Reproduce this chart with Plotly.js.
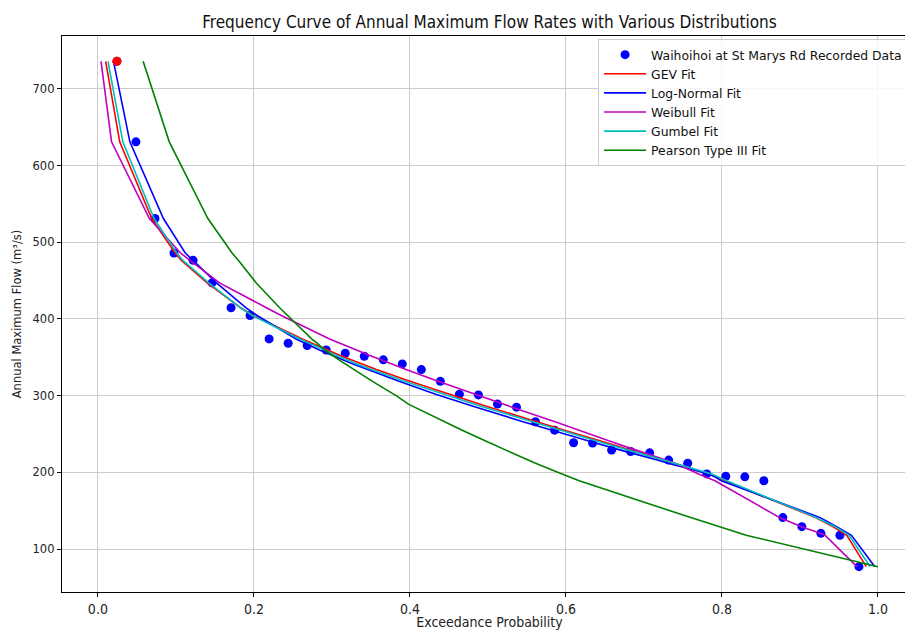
<!DOCTYPE html>
<html>
<head>
<meta charset="utf-8">
<script src="https://cdn.plot.ly/plotly-3.0.1.min.js"></script>
<style>
html, body { margin: 0; padding: 0; overflow: hidden; background: #ffffff; }
#chart { width: 925px; height: 630px; }
</style>
</head>
<body>
<div id="chart"></div>
<script>
// Recorded annual maximum flows (sorted, descending) and their exceedance probabilities
const recordedProb = [0.0244, 0.0488, 0.0732, 0.0976, 0.1220, 0.1463, 0.1707, 0.1951, 0.2195, 0.2439,
  0.2683, 0.2927, 0.3171, 0.3415, 0.3659, 0.3902, 0.4146, 0.4390, 0.4634, 0.4878,
  0.5122, 0.5366, 0.5610, 0.5854, 0.6098, 0.6341, 0.6585, 0.6829, 0.7073, 0.7317,
  0.7561, 0.7805, 0.8049, 0.8293, 0.8537, 0.8780, 0.9024, 0.9268, 0.9512, 0.9756];
const recordedFlow = [736, 631, 531, 486, 476.5, 447, 414.6, 404.6, 374, 368.4,
  365.4, 359.5, 355.3, 351.4, 346.7, 341.4, 334, 318.7, 302, 301,
  289, 285, 266, 255, 238.6, 238.2, 229, 227.2, 225.5, 216,
  212, 198, 195, 194.2, 189, 141, 129.2, 120.5, 118, 77];

// Highlighted maximum recorded flow
const maxProb = [0.0244];
const maxFlow = [736];

// Fitted exceedance probabilities at each recorded flow
const gevProb = [0.010, 0.028, 0.069, 0.099, 0.107, 0.140, 0.183, 0.199, 0.262, 0.274,
  0.281, 0.294, 0.304, 0.313, 0.325, 0.338, 0.357, 0.400, 0.449, 0.452,
  0.489, 0.502, 0.562, 0.598, 0.652, 0.653, 0.683, 0.689, 0.695, 0.726,
  0.739, 0.784, 0.790, 0.792, 0.803, 0.920, 0.942, 0.956, 0.960, 0.985];
const lognormProb = [0.020, 0.041, 0.084, 0.112, 0.122, 0.152, 0.190, 0.204, 0.254, 0.265,
  0.271, 0.284, 0.294, 0.303, 0.314, 0.327, 0.346, 0.386, 0.433, 0.436,
  0.472, 0.485, 0.545, 0.581, 0.637, 0.638, 0.670, 0.677, 0.683, 0.717,
  0.731, 0.783, 0.789, 0.791, 0.799, 0.926, 0.947, 0.963, 0.966, 0.996];
const weibullProb = [0.004, 0.0175, 0.066, 0.106, 0.118, 0.156, 0.216, 0.235, 0.297, 0.310,
  0.317, 0.331, 0.341, 0.351, 0.363, 0.376, 0.395, 0.436, 0.482, 0.485,
  0.519, 0.531, 0.586, 0.616, 0.662, 0.663, 0.690, 0.695, 0.700, 0.728,
  0.740, 0.770, 0.777, 0.779, 0.791, 0.874, 0.902, 0.926, 0.932, 0.973];
const gumbelProb = [0.013, 0.032, 0.072, 0.101, 0.109, 0.142, 0.183, 0.198, 0.259, 0.271,
  0.277, 0.290, 0.299, 0.308, 0.319, 0.332, 0.351, 0.393, 0.442, 0.445,
  0.482, 0.495, 0.556, 0.592, 0.647, 0.648, 0.680, 0.686, 0.692, 0.725,
  0.739, 0.787, 0.793, 0.795, 0.806, 0.921, 0.945, 0.959, 0.963, 0.990];
const pearson3Prob = [0.058, 0.0915, 0.141, 0.172, 0.180, 0.203, 0.233, 0.243, 0.274, 0.281,
  0.284, 0.291, 0.297, 0.302, 0.309, 0.317, 0.328, 0.352, 0.379, 0.381,
  0.398, 0.406, 0.444, 0.467, 0.502, 0.503, 0.523, 0.527, 0.531, 0.552,
  0.561, 0.595, 0.602, 0.604, 0.617, 0.760, 0.796, 0.823, 0.831, 1.0];

const seriesNames = ['Waihoihoi at St Marys Rd Recorded Data', 'GEV Fit', 'Log-Normal Fit',
  'Weibull Fit', 'Gumbel Fit', 'Pearson Type III Fit'];
const xTicks = [0.0, 0.2, 0.4, 0.6, 0.8, 1.0];
const yTicks = [100, 200, 300, 400, 500, 600, 700];

const fits = [
  {name: seriesNames[1], x: gevProb, color: '#ff0000'},
  {name: seriesNames[2], x: lognormProb, color: '#0000ff'},
  {name: seriesNames[3], x: weibullProb, color: '#bf00bf'},
  {name: seriesNames[4], x: gumbelProb, color: '#00bfbf'},
  {name: seriesNames[5], x: pearson3Prob, color: '#008000'}
];

const traces = [{
  x: recordedProb, y: recordedFlow, mode: 'markers', type: 'scatter',
  name: seriesNames[0],
  marker: {color: '#0000ff', size: 9}
}];
fits.forEach((f) => {
  traces.push({
    x: f.x, y: recordedFlow, mode: 'lines', type: 'scatter',
    name: f.name,
    line: {color: f.color, width: 1.6}
  });
});
traces.push({
  x: maxProb, y: maxFlow, mode: 'markers', type: 'scatter',
  showlegend: false, marker: {color: '#ff0000', size: 9}
});

const axisFontNarrow = {family: 'Liberation Sans Narrow, DejaVu Sans Condensed, sans-serif', size: 14, color: '#222'};

const layout = {
  width: 925, height: 630,
  margin: {l: 62, r: 8, t: 36, b: 38},
  paper_bgcolor: '#ffffff', plot_bgcolor: '#ffffff',
  title: {
    text: 'Frequency Curve of Annual Maximum Flow Rates with Various Distributions',
    font: {family: 'Liberation Sans Narrow, DejaVu Sans Condensed, sans-serif', size: 17, color: '#111'},
    x: 0.5, xref: 'paper', y: 1 - 22 / 630, yanchor: 'middle'
  },
  xaxis: {
    range: [-0.046, 1.05], tickvals: xTicks, tickformat: '.1f',
    showgrid: true, gridcolor: '#cccccc', gridwidth: 1, zeroline: false,
    showline: true, linecolor: '#000', linewidth: 1.2, mirror: true,
    ticks: 'outside', ticklen: 4, tickcolor: '#000',
    tickfont: axisFontNarrow,
    title: {text: 'Exceedance Probability', font: axisFontNarrow, standoff: 6}
  },
  yaxis: {
    range: [44, 769], tickvals: yTicks,
    showgrid: true, gridcolor: '#cccccc', gridwidth: 1, zeroline: false,
    showline: true, linecolor: '#000', linewidth: 1.2, mirror: true,
    ticks: 'outside', ticklen: 4, tickcolor: '#000',
    tickfont: {family: 'DejaVu Sans, sans-serif', size: 11.5, color: '#222'},
    title: {text: 'Annual Maximum Flow (m³/s)', font: {family: 'DejaVu Sans, sans-serif', size: 11.5, color: '#222'}, standoff: 8}
  },
  legend: {
    x: 0.627, y: 0.9944, xanchor: 'left', yanchor: 'top',
    bgcolor: 'rgba(255,255,255,0.85)', bordercolor: '#cccccc', borderwidth: 1,
    font: {family: 'DejaVu Sans, sans-serif', size: 12.4, color: '#111'},
    itemwidth: 42, tracegroupgap: 0
  },
  showlegend: true
};

Plotly.newPlot('chart', traces, layout, {displayModeBar: false, staticPlot: true});
</script>
</body>
</html>
